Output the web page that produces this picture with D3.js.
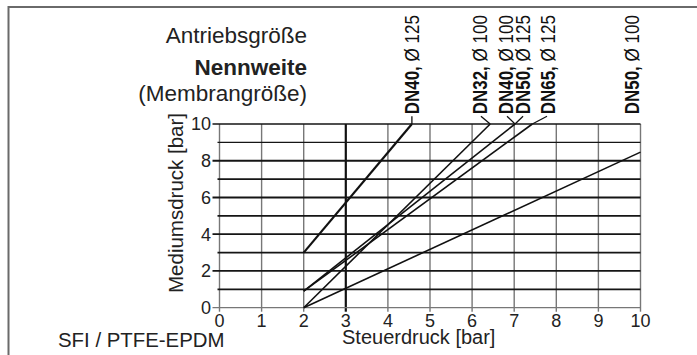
<!DOCTYPE html>
<html>
<head>
<meta charset="utf-8">
<script src="https://cdn.jsdelivr.net/npm/d3@7"></script>
<style>
	body { margin: 0; background: #fff; }
	svg { display: block; font-family: 'Liberation Sans', Arial, sans-serif; }
</style>
</head>
<body>
<div id="chart"></div>
<script>
// Steuerdruck (x) vs. Mediumsdruck (y), one line per Antriebsgröße
const xTicks = [0, 1, 2, 3, 4, 5, 6, 7, 8, 9, 10]
const yTicks = [0, 2, 4, 6, 8, 10]
const yGrid = [0, 1, 2, 3, 4, 5, 6, 7, 8, 9, 10]

const lineStart = [[2, 3], [2, 0], [2, 0.9], [2, 0.9], [2, 0]]
const lineEnd = [[4.57, 10], [6.43, 10], [7.02, 10], [7.43, 10], [10, 8.47]]

// labels above the plot: bold part, regular part, x position in bar
const labelBold = ['DN40,', 'DN32,', 'DN40,', 'DN50,', 'DN65,', 'DN50,']
const labelRest = [' Ø 125', ' Ø 100', ' Ø 100', ' Ø 125', ' Ø 125', ' Ø 100']
const labelX = [4.75, 6.36, 6.96, 7.37, 7.96, 9.97]
// leader from line end (line index) to label foot (x in bar)
const leaderLine = [0, 1, 2, 2, 3]
const leaderX = [4.57, 6.21, 6.83, 7.21, 7.78]

const width = 697
const height = 355

const svg = d3.select('#chart').append('svg').attr('width', width).attr('height', height)

const x = d3.scaleLinear().domain([0, 10]).range([219.5, 640.5])
const y = d3.scaleLinear().domain([0, 10]).range([307.7, 124])

// outer frame (top and left only)
svg.append('path')
	.attr('d', `M8.5,355 V7 H697`)
	.attr('fill', 'none')
	.attr('stroke', '#6a6a6a')
	.attr('stroke-width', 2)

const grid = svg.append('g')

//vertical grid lines
grid.selectAll('.vgrid')
	.data(xTicks)
	.enter()
	.append('line')
	.attr('class', 'vgrid')
	.attr('x1', d => x(d))
	.attr('x2', d => x(d))
	.attr('y1', y(10))
	.attr('y2', y(0) + 4)
	.attr('stroke', d => (d === 3 ? '#111' : '#777'))
	.attr('stroke-width', d => (d === 3 ? 2.2 : 1.4))

//horizontal grid lines, even values get a longer tick
grid.selectAll('.hgrid')
	.data(yGrid)
	.enter()
	.append('line')
	.attr('class', 'hgrid')
	.attr('x1', d => x(0) - (d % 2 === 0 ? 7 : 2))
	.attr('x2', x(10))
	.attr('y1', d => y(d))
	.attr('y2', d => y(d))
	.attr('stroke', d => (d === 0 ? '#777' : '#151515'))
	.attr('stroke-width', d => (d === 0 || d === 10 || d === 9 ? 1.3 : 1.8))

// tick labels
svg.append('g')
	.selectAll('text')
	.data(xTicks)
	.enter()
	.append('text')
	.attr('x', d => x(d))
	.attr('y', 327)
	.attr('text-anchor', 'middle')
	.attr('font-size', '18px')
	.attr('fill', '#222')
	.text(d => d)

svg.append('g')
	.selectAll('text')
	.data(yTicks)
	.enter()
	.append('text')
	.attr('x', 211)
	.attr('y', d => y(d))
	.attr('dy', '0.36em')
	.attr('text-anchor', 'end')
	.attr('font-size', '18px')
	.attr('fill', '#222')
	.text(d => d)

// data lines
const valueline = d3.line().x(d => x(d[0])).y(d => y(d[1]))

svg.append('g')
	.selectAll('path')
	.data(lineStart.map((s, i) => [s, lineEnd[i]]))
	.enter()
	.append('path')
	.attr('d', valueline)
	.attr('fill', 'none')
	.attr('stroke', '#111')
	.attr('stroke-width', (d, i) => (i === 0 ? 2.2 : 1.6))

// leaders to the labels
svg.append('g')
	.selectAll('line')
	.data(leaderLine)
	.enter()
	.append('line')
	.attr('x1', d => x(lineEnd[d][0]))
	.attr('y1', d => y(lineEnd[d][1]))
	.attr('x2', (d, i) => x(leaderX[i]))
	.attr('y2', y(10.42))
	.attr('stroke', '#111')
	.attr('stroke-width', 1.3)

// rotated line labels
const labels = svg.append('g')
	.selectAll('text')
	.data(labelBold)
	.enter()
	.append('text')
	.attr('transform', (d, i) => `translate(${x(labelX[i])},${y(10.42) - 2}) scale(1.15,1) rotate(-90)`)
	.attr('font-size', '17px')
	.attr('fill', '#111')

labels.append('tspan').attr('font-weight', 'bold').text(d => d)
labels.append('tspan').text((d, i) => labelRest[i])

// titles
const header = [
	{ t: 'Antriebsgröße', y: 43, w: 'normal' },
	{ t: 'Nennweite', y: 75, w: 'bold' },
	{ t: '(Membrangröße)', y: 101, w: 'normal' },
]
svg.append('g')
	.selectAll('text')
	.data(header)
	.enter()
	.append('text')
	.attr('x', 307)
	.attr('y', d => d.y)
	.attr('text-anchor', 'end')
	.attr('font-size', '22.5px')
	.attr('font-weight', d => d.w)
	.attr('fill', '#222')
	.text(d => d.t)

svg.append('text')
	.attr('transform', `translate(183,203) rotate(-90)`)
	.attr('text-anchor', 'middle')
	.attr('font-size', '20.5px')
	.attr('fill', '#222')
	.text('Mediumsdruck [bar]')

svg.append('text')
	.attr('x', 342)
	.attr('y', 344)
	.attr('font-size', '20px')
	.attr('fill', '#222')
	.text('Steuerdruck [bar]')

svg.append('text')
	.attr('x', 58)
	.attr('y', 346.5)
	.attr('font-size', '20.4px')
	.attr('fill', '#222')
	.text('SFI / PTFE-EPDM')
</script>
</body>
</html>
